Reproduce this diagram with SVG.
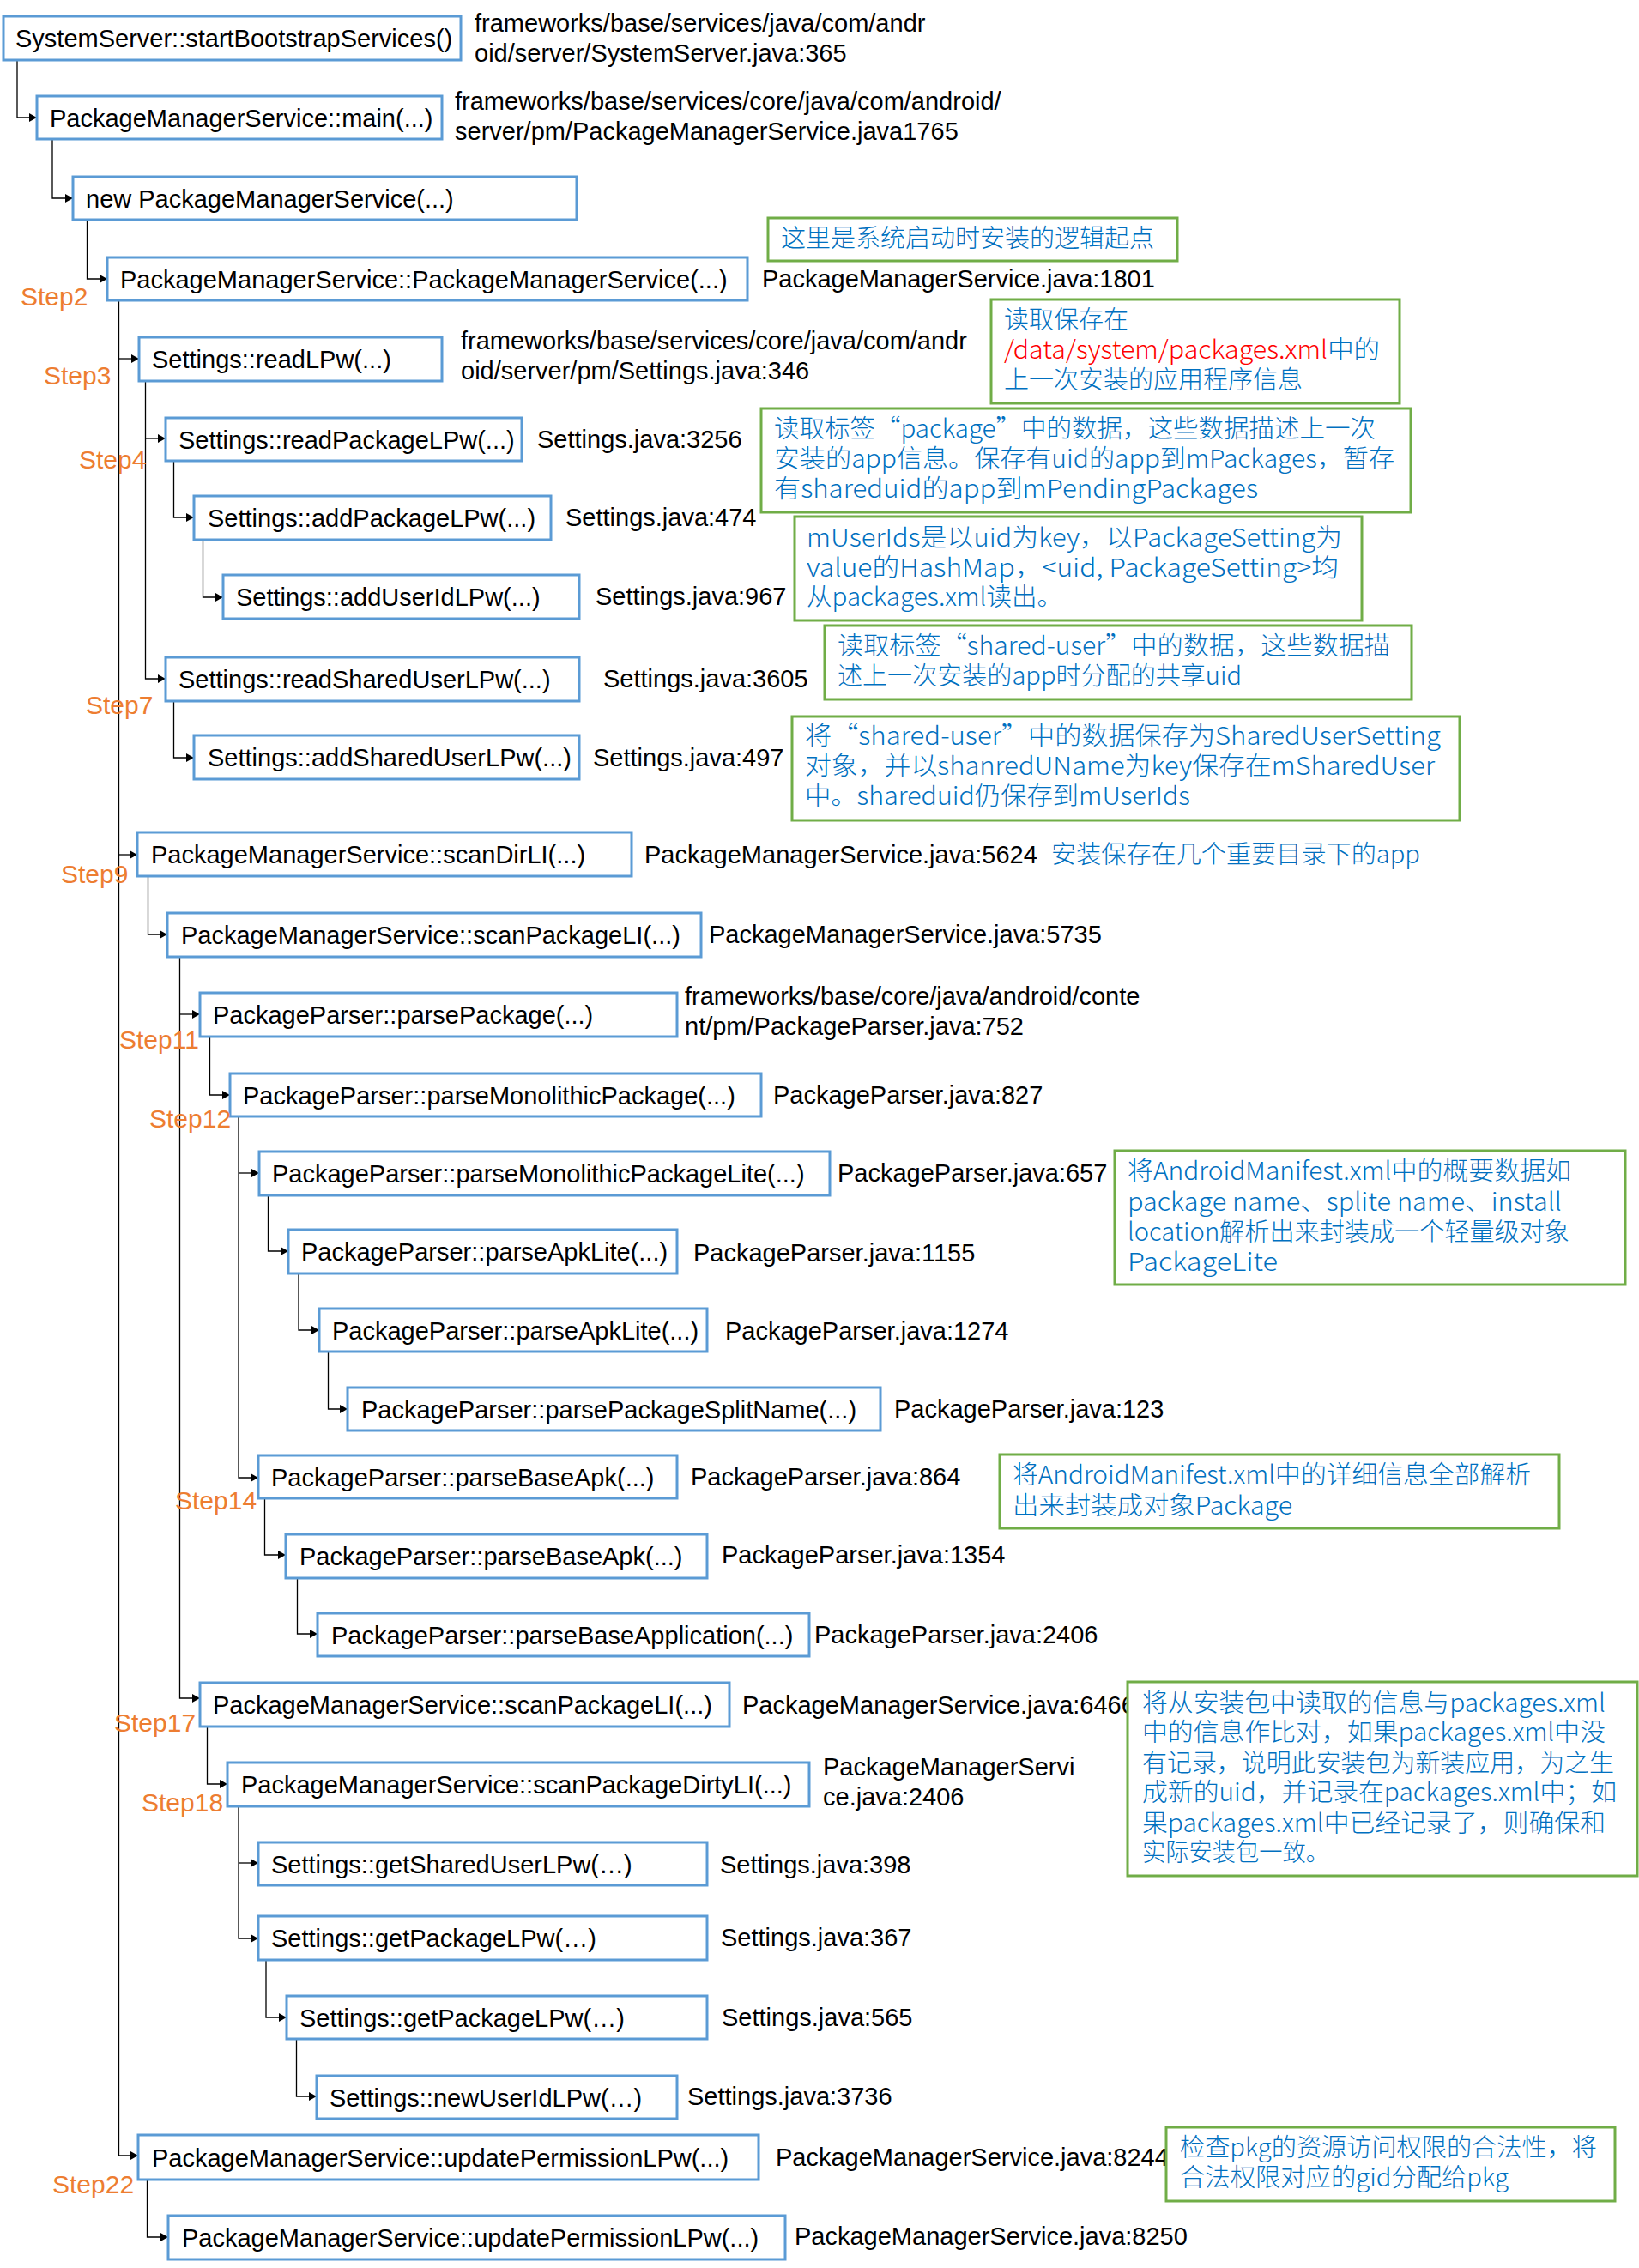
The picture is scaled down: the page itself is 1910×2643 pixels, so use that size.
<svg xmlns="http://www.w3.org/2000/svg" width="1910" height="2643" viewBox="0 0 1910 2643">
<style>
.n rect{fill:#fff;stroke:#5B9BD5;stroke-width:3}
.n text,.r{font-family:"Liberation Sans",Arial,sans-serif;font-size:29px;fill:#000}
.s{font-family:"Liberation Sans",Arial,sans-serif;font-size:30px;fill:#ED7D31}
.g rect{fill:#fff;stroke:#70AD47;stroke-width:3}
.b{font-family:"Noto Sans CJK SC",sans-serif;font-size:29px;fill:#0070C0;font-weight:300}
.red{fill:#FF0000}
#connectors path{stroke:#000;stroke-width:1.3;fill:none;marker-end:url(#arr)}
</style>
<defs>
<marker id="arr" markerWidth="10" markerHeight="10" refX="9" refY="5" orient="auto" markerUnits="userSpaceOnUse"><path d="M0,0 L9,5 L0,10 z" fill="#000"/></marker>
</defs>
<rect width="1910" height="2643" fill="#fff"/>

<g id="connectors">
<path d="M20,70 V137 H43"/>
<path d="M61,162 V231 H85"/>
<path d="M101.5,256 V325 H125"/>
<path d="M138.5,350 V2512 H161"/>
<path d="M138.5,418 H162"/>
<path d="M138.5,996 H160"/>
<path d="M169.5,444 V791 H193"/>
<path d="M169.5,511 H193"/>
<path d="M202.5,537 V603 H226"/>
<path d="M236.5,629 V696 H260"/>
<path d="M202.5,817 V883 H226"/>
<path d="M172.5,1021 V1089 H195"/>
<path d="M209.5,1115 V1979 H233"/>
<path d="M209.5,1182 H233"/>
<path d="M244.5,1208 V1276 H268"/>
<path d="M278,1301 V1722 H301"/>
<path d="M278,1367 H302"/>
<path d="M312.5,1393 V1458 H336"/>
<path d="M348,1484 V1550 H372"/>
<path d="M382.5,1575 V1642 H405"/>
<path d="M308.5,1746 V1812 H333"/>
<path d="M346.5,1839 V1904 H370"/>
<path d="M241.5,2012 V2079 H265"/>
<path d="M278,2105 V2259 H301"/>
<path d="M278,2171 H301"/>
<path d="M310,2284 V2351 H334"/>
<path d="M345.5,2376 V2443 H369"/>
<path d="M171.5,2540 V2607 H196"/>
</g>

<g id="n1" class="n"><rect x="4" y="19" width="533" height="51"/><text x="18" y="55">SystemServer::startBootstrapServices()</text></g>
<g id="n2" class="n"><rect x="43" y="112" width="472" height="50"/><text x="58" y="148">PackageManagerService::main(...)</text></g>
<g id="n3" class="n"><rect x="85" y="206" width="587" height="50"/><text x="100" y="242">new PackageManagerService(...)</text></g>
<g id="n4" class="n"><rect x="125" y="300" width="746" height="50"/><text x="140" y="336">PackageManagerService::PackageManagerService(...)</text></g>
<g id="n5" class="n"><rect x="162" y="393" width="353" height="51"/><text x="177" y="429">Settings::readLPw(...)</text></g>
<g id="n6" class="n"><rect x="193" y="487" width="415" height="50"/><text x="208" y="523">Settings::readPackageLPw(...)</text></g>
<g id="n7" class="n"><rect x="226" y="578" width="416" height="51"/><text x="242" y="614">Settings::addPackageLPw(...)</text></g>
<g id="n8" class="n"><rect x="260" y="670" width="415" height="51"/><text x="275" y="706">Settings::addUserIdLPw(...)</text></g>
<g id="n9" class="n"><rect x="193" y="766" width="482" height="51"/><text x="208" y="802">Settings::readSharedUserLPw(...)</text></g>
<g id="n10" class="n"><rect x="226" y="857" width="449" height="51"/><text x="242" y="893">Settings::addSharedUserLPw(...)</text></g>
<g id="n11" class="n"><rect x="160" y="970" width="576" height="51"/><text x="176" y="1006">PackageManagerService::scanDirLI(...)</text></g>
<g id="n12" class="n"><rect x="195" y="1064" width="622" height="51"/><text x="211" y="1100">PackageManagerService::scanPackageLI(...)</text></g>
<g id="n13" class="n"><rect x="233" y="1157" width="556" height="51"/><text x="248" y="1193">PackageParser::parsePackage(...)</text></g>
<g id="n14" class="n"><rect x="268" y="1251" width="619" height="50"/><text x="283" y="1287">PackageParser::parseMonolithicPackage(...)</text></g>
<g id="n15" class="n"><rect x="302" y="1342" width="665" height="51"/><text x="317" y="1378">PackageParser::parseMonolithicPackageLite(...)</text></g>
<g id="n16" class="n"><rect x="336" y="1433" width="453" height="51"/><text x="351" y="1469">PackageParser::parseApkLite(...)</text></g>
<g id="n17" class="n"><rect x="372" y="1525" width="452" height="50"/><text x="387" y="1561">PackageParser::parseApkLite(...)</text></g>
<g id="n18" class="n"><rect x="405" y="1617" width="621" height="50"/><text x="421" y="1653">PackageParser::parsePackageSplitName(...)</text></g>
<g id="n19" class="n"><rect x="301" y="1696" width="488" height="50"/><text x="316" y="1732">PackageParser::parseBaseApk(...)</text></g>
<g id="n20" class="n"><rect x="333" y="1788" width="491" height="51"/><text x="349" y="1824">PackageParser::parseBaseApk(...)</text></g>
<g id="n21" class="n"><rect x="370" y="1880" width="573" height="50"/><text x="386" y="1916">PackageParser::parseBaseApplication(...)</text></g>
<g id="n22" class="n"><rect x="233" y="1961" width="617" height="51"/><text x="248" y="1997">PackageManagerService::scanPackageLI(...)</text></g>
<g id="n23" class="n"><rect x="265" y="2054" width="678" height="51"/><text x="281" y="2090">PackageManagerService::scanPackageDirtyLI(...)</text></g>
<g id="n24" class="n"><rect x="301" y="2147" width="523" height="50"/><text x="316" y="2183">Settings::getSharedUserLPw(…)</text></g>
<g id="n25" class="n"><rect x="301" y="2233" width="523" height="51"/><text x="316" y="2269">Settings::getPackageLPw(…)</text></g>
<g id="n26" class="n"><rect x="334" y="2326" width="490" height="50"/><text x="349" y="2362">Settings::getPackageLPw(…)</text></g>
<g id="n27" class="n"><rect x="369" y="2419" width="420" height="50"/><text x="384" y="2455">Settings::newUserIdLPw(…)</text></g>
<g id="n28" class="n"><rect x="161" y="2488" width="723" height="52"/><text x="177" y="2525">PackageManagerService::updatePermissionLPw(...)</text></g>
<g id="n29" class="n"><rect x="196" y="2582" width="719" height="51"/><text x="212" y="2618">PackageManagerService::updatePermissionLPw(...)</text></g>

<g id="refs">
<text class="r" x="553" y="37">frameworks/base/services/java/com/andr</text>
<text class="r" x="553" y="72">oid/server/SystemServer.java:365</text>
<text class="r" x="530" y="128">frameworks/base/services/core/java/com/android/</text>
<text class="r" x="530" y="163">server/pm/PackageManagerService.java1765</text>
<text class="r" x="888" y="335">PackageManagerService.java:1801</text>
<text class="r" x="537" y="407">frameworks/base/services/core/java/com/andr</text>
<text class="r" x="537" y="442">oid/server/pm/Settings.java:346</text>
<text class="r" x="626" y="522">Settings.java:3256</text>
<text class="r" x="659" y="613">Settings.java:474</text>
<text class="r" x="694" y="705">Settings.java:967</text>
<text class="r" x="703" y="801">Settings.java:3605</text>
<text class="r" x="691" y="893">Settings.java:497</text>
<text class="r" x="751" y="1006">PackageManagerService.java:5624</text>
<text class="r" x="826" y="1099">PackageManagerService.java:5735</text>
<text class="r" x="798" y="1171">frameworks/base/core/java/android/conte</text>
<text class="r" x="798" y="1206">nt/pm/PackageParser.java:752</text>
<text class="r" x="901" y="1286">PackageParser.java:827</text>
<text class="r" x="976" y="1377">PackageParser.java:657</text>
<text class="r" x="808" y="1470">PackageParser.java:1155</text>
<text class="r" x="845" y="1561">PackageParser.java:1274</text>
<text class="r" x="1042" y="1652">PackageParser.java:123</text>
<text class="r" x="805" y="1731">PackageParser.java:864</text>
<text class="r" x="841" y="1822">PackageParser.java:1354</text>
<text class="r" x="949" y="1915">PackageParser.java:2406</text>
<text class="r" x="865" y="1997">PackageManagerService.java:6466</text>
<text class="r" x="959" y="2069">PackageManagerServi</text>
<text class="r" x="959" y="2104">ce.java:2406</text>
<text class="r" x="839" y="2183">Settings.java:398</text>
<text class="r" x="840" y="2268">Settings.java:367</text>
<text class="r" x="841" y="2361">Settings.java:565</text>
<text class="r" x="801" y="2453">Settings.java:3736</text>
<text class="r" x="904" y="2524">PackageManagerService.java:8244</text>
<text class="r" x="926" y="2616">PackageManagerService.java:8250</text>
</g>

<g id="steps">
<text class="s" x="24" y="356">Step2</text>
<text class="s" x="51" y="448">Step3</text>
<text class="s" x="92" y="546">Step4</text>
<text class="s" x="100" y="832">Step7</text>
<text class="s" x="71" y="1029">Step9</text>
<text class="s" x="139" y="1222">Step11</text>
<text class="s" x="174" y="1314">Step12</text>
<text class="s" x="204" y="1759">Step14</text>
<text class="s" x="133" y="2018">Step17</text>
<text class="s" x="165" y="2111">Step18</text>
<text class="s" x="61" y="2556">Step22</text>
</g>

<g id="notes">
<g id="g1" class="g"><rect x="895" y="254" width="477" height="50"/><text class="b" x="910" y="288" textLength="435" lengthAdjust="spacingAndGlyphs">这里是系统启动时安装的逻辑起点</text></g>
<g id="g2" class="g"><rect x="1155" y="349" width="476" height="121"/>
<text class="b" x="1170" y="383">读取保存在</text>
<text class="b" x="1170" y="418" textLength="438" lengthAdjust="spacingAndGlyphs"><tspan class="red">/data/system/packages.xml</tspan>中的</text>
<text class="b" x="1170" y="453" textLength="348" lengthAdjust="spacingAndGlyphs">上一次安装的应用程序信息</text></g>
<g id="g3" class="g"><rect x="887" y="476" width="757" height="121"/>
<text class="b" x="902" y="510" textLength="701" lengthAdjust="spacingAndGlyphs">读取标签“package”中的数据，这些数据描述上一次</text>
<text class="b" x="902" y="545" textLength="723" lengthAdjust="spacingAndGlyphs">安装的app信息。保存有uid的app到mPackages，暂存</text>
<text class="b" x="902" y="580" textLength="564" lengthAdjust="spacingAndGlyphs">有shareduid的app到mPendingPackages</text></g>
<g id="g4" class="g"><rect x="926" y="602" width="661" height="121"/>
<text class="b" x="940" y="637" textLength="624" lengthAdjust="spacingAndGlyphs">mUserIds是以uid为key，以PackageSetting为</text>
<text class="b" x="940" y="672" textLength="620" lengthAdjust="spacingAndGlyphs">value的HashMap，&lt;uid, PackageSetting&gt;均</text>
<text class="b" x="940" y="706" textLength="298" lengthAdjust="spacingAndGlyphs">从packages.xml读出。</text></g>
<g id="g5" class="g"><rect x="961" y="729" width="684" height="86"/>
<text class="b" x="976" y="763" textLength="644" lengthAdjust="spacingAndGlyphs">读取标签“shared-user”中的数据，这些数据描</text>
<text class="b" x="976" y="798" textLength="471" lengthAdjust="spacingAndGlyphs">述上一次安装的app时分配的共享uid</text></g>
<g id="g6" class="g"><rect x="923" y="835" width="778" height="121"/>
<text class="b" x="938" y="868" textLength="741" lengthAdjust="spacingAndGlyphs">将“shared-user”中的数据保存为SharedUserSetting</text>
<text class="b" x="938" y="903" textLength="734" lengthAdjust="spacingAndGlyphs">对象，并以shanredUName为key保存在mSharedUser</text>
<text class="b" x="938" y="938" textLength="449" lengthAdjust="spacingAndGlyphs">中。shareduid仍保存到mUserIds</text></g>
<text class="b" x="1225" y="1006" textLength="430" lengthAdjust="spacingAndGlyphs">安装保存在几个重要目录下的app</text>
<g id="g7" class="g"><rect x="1299" y="1341" width="595" height="156"/>
<text class="b" x="1314" y="1375" textLength="517" lengthAdjust="spacingAndGlyphs">将AndroidManifest.xml中的概要数据如</text>
<text class="b" x="1314" y="1411" textLength="506" lengthAdjust="spacingAndGlyphs">package name、splite name、install</text>
<text class="b" x="1314" y="1446" textLength="515" lengthAdjust="spacingAndGlyphs">location解析出来封装成一个轻量级对象</text>
<text class="b" x="1314" y="1481" textLength="175" lengthAdjust="spacingAndGlyphs">PackageLite</text></g>
<g id="g8" class="g"><rect x="1165" y="1695" width="652" height="86"/>
<text class="b" x="1180" y="1729" textLength="604" lengthAdjust="spacingAndGlyphs">将AndroidManifest.xml中的详细信息全部解析</text>
<text class="b" x="1180" y="1765" textLength="326" lengthAdjust="spacingAndGlyphs">出来封装成对象Package</text></g>
<g id="g9" class="g"><rect x="1314" y="1960" width="594" height="226"/>
<text class="b" x="1331" y="1995" textLength="540" lengthAdjust="spacingAndGlyphs">将从安装包中读取的信息与packages.xml</text>
<text class="b" x="1331" y="2029" textLength="540" lengthAdjust="spacingAndGlyphs">中的信息作比对，如果packages.xml中没</text>
<text class="b" x="1331" y="2065" textLength="550" lengthAdjust="spacingAndGlyphs">有记录，说明此安装包为新装应用，为之生</text>
<text class="b" x="1331" y="2099" textLength="553" lengthAdjust="spacingAndGlyphs">成新的uid，并记录在packages.xml中；如</text>
<text class="b" x="1331" y="2135" textLength="540" lengthAdjust="spacingAndGlyphs">果packages.xml中已经记录了，则确保和</text>
<text class="b" x="1331" y="2169" textLength="218" lengthAdjust="spacingAndGlyphs">实际安装包一致。</text></g>
<g id="g10" class="g"><rect x="1359" y="2479" width="523" height="86"/>
<text class="b" x="1375" y="2513" textLength="486" lengthAdjust="spacingAndGlyphs">检查pkg的资源访问权限的合法性，将</text>
<text class="b" x="1375" y="2548" textLength="383" lengthAdjust="spacingAndGlyphs">合法权限对应的gid分配给pkg</text></g>
</g>
</svg>
